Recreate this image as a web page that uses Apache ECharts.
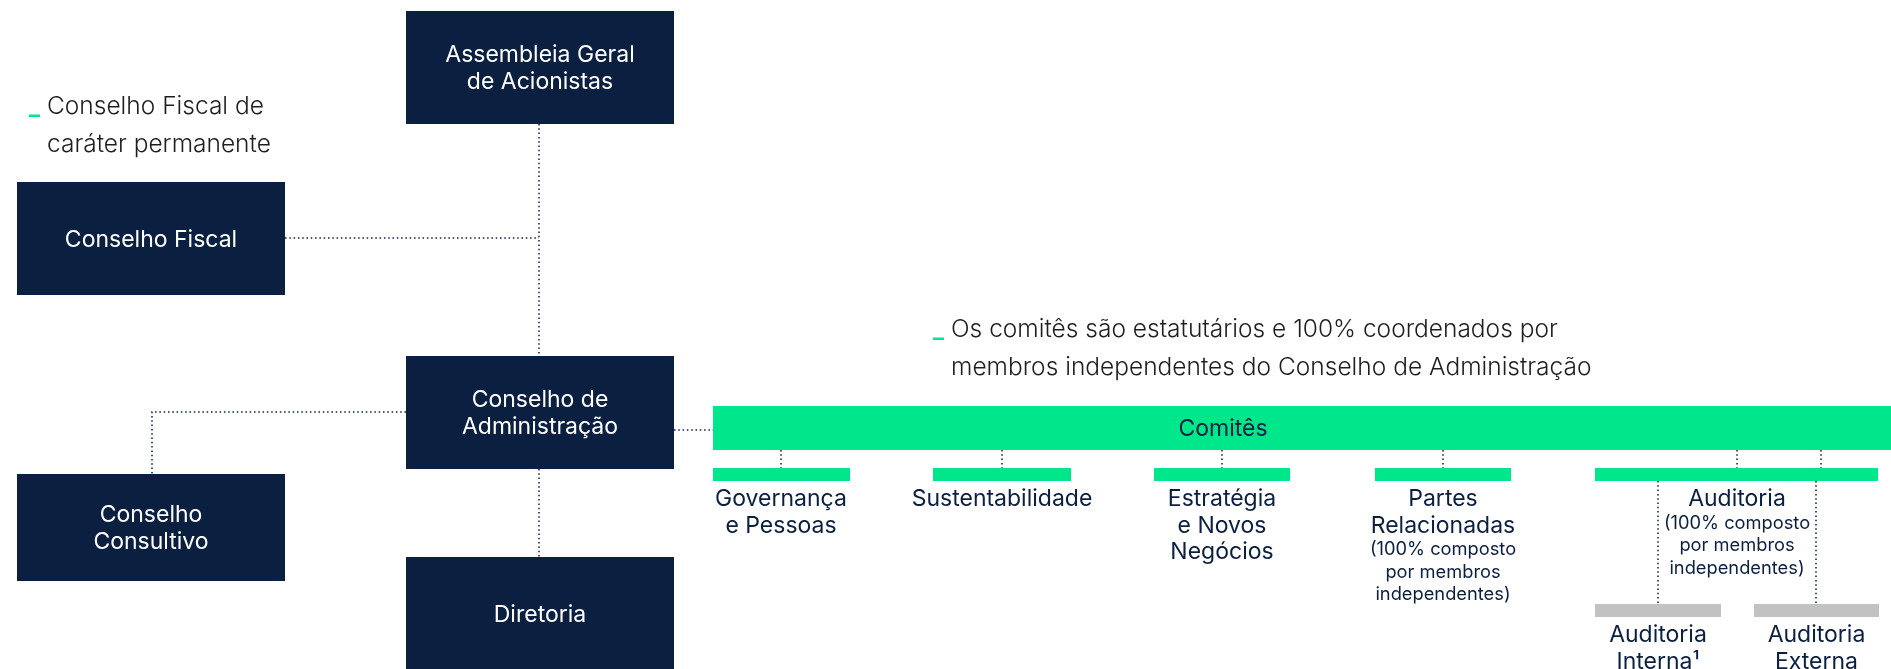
<!DOCTYPE html>
<html><head><meta charset="utf-8">
<script src="https://cdn.jsdelivr.net/npm/echarts@6/dist/echarts.min.js"></script>
<style>html,body{margin:0;padding:0;background:#fff}#c{width:1891px;height:669px}</style>
</head><body><div id="c"></div>
<script>
// ---------- content ----------
const boxLabels = ['Assembleia Geral\nde Acionistas', 'Conselho Fiscal', 'Conselho de\nAdministração', 'Conselho\nConsultivo', 'Diretoria'];
const committeeHeader = 'Comitês';
const committeeLabels = ['Governança\ne Pessoas', 'Sustentabilidade', 'Estratégia\ne Novos\nNegócios', 'Partes\nRelacionadas', 'Auditoria'];
const committeeNotes = ['', '', '', '(100% composto\npor membros\nindependentes)', '(100% composto\npor membros\nindependentes)'];
const auditLabels = ['Auditoria\nInterna¹', 'Auditoria\nExterna'];
const noteTexts = ['Conselho Fiscal de\ncaráter permanente', 'Os comitês são estatutários e 100% coordenados por\nmembros independentes do Conselho de Administração'];

// ---------- layout (units of the hidden axes) ----------
const boxRects = [[406, 11, 674, 124], [17, 182, 285, 295], [406, 356, 674, 469], [17, 474, 285, 581], [406, 557, 674, 670]];
const headerRect = [713, 406, 1891, 450];
const headerLabelPos = [1223, 429];
const committeeRects = [[713, 468, 850, 481], [933, 468, 1071, 481], [1154, 468, 1290, 481], [1375, 468, 1511, 481], [1595, 468, 1878, 481]];
const committeeLabelCx = [781, 1002, 1222, 1443, 1737];
const auditRects = [[1595, 604, 1721, 617], [1754, 604, 1879, 617]];
const noteAnchors = [[47, 107], [951, 330]];
const connectors = [
  [[539, 124], [539, 356]],
  [[285, 238], [539, 238]],
  [[406, 412], [152, 412], [152, 474]],
  [[539, 469], [539, 557]],
  [[674, 430], [713, 430]],
  [[781, 450], [781, 468]],
  [[1002, 450], [1002, 468]],
  [[1222, 450], [1222, 468]],
  [[1443, 450], [1443, 468]],
  [[1737, 450], [1737, 468]],
  [[1821, 450], [1821, 468]],
  [[1658, 481], [1658, 604]],
  [[1816, 481], [1816, 604]]
];

// ---------- styles ----------
const NAVY = '#0b1f41';
const GREEN = '#00e68a';
const GRAY = '#c2c2c2';
const FONT = 'Inter';
const LH = 26.5, NOTE_LH = 22.5;

const chart = echarts.init(document.getElementById('c'), null, {renderer: 'canvas'});

function rectShape(api) {
  const p0 = api.coord([api.value(0), api.value(1)]);
  const p1 = api.coord([api.value(2), api.value(3)]);
  return {x: p0[0], y: p0[1], width: p1[0] - p0[0], height: p1[1] - p0[1]};
}

const option = {
  animation: false,
  backgroundColor: '#fff',
  grid: {left: 0, right: 0, top: 0, bottom: 0},
  xAxis: {type: 'value', min: 0, max: 1891, show: false},
  yAxis: {type: 'value', min: 0, max: 669, inverse: true, show: false},
  series: [
    {
      type: 'lines', coordinateSystem: 'cartesian2d', polyline: true, silent: true, z: 1,
      lineStyle: {color: NAVY, width: 1.5, type: [1.5, 2.8], opacity: 1},
      data: connectors.map(c => ({coords: c}))
    },
    { // navy boxes
      type: 'custom', silent: true, z: 2,
      data: boxRects.map((r, i) => [r[0], r[1], r[2], r[3], i]),
      encode: {x: [0, 2], y: [1, 3]},
      renderItem: (params, api) => {
        const s = rectShape(api);
        const i = api.value(4);
        return {type: 'group', children: [
          {type: 'rect', shape: s, style: {fill: NAVY}},
          {type: 'text', style: {text: boxLabels[i], x: s.x + s.width / 2, y: s.y + s.height / 2 + 1.2,
            align: 'center', verticalAlign: 'middle', fill: '#ffffff', font: '400 23px ' + FONT, lineHeight: LH}}
        ]};
      }
    },
    { // committees header bar
      type: 'custom', silent: true, z: 2,
      data: [[headerRect[0], headerRect[1], headerRect[2], headerRect[3], headerLabelPos[0], headerLabelPos[1]]],
      encode: {x: [0, 2], y: [1, 3]},
      renderItem: (params, api) => {
        const s = rectShape(api);
        const t = api.coord([api.value(4), api.value(5)]);
        return {type: 'group', children: [
          {type: 'rect', shape: s, style: {fill: GREEN}},
          {type: 'text', style: {text: committeeHeader, x: t[0], y: t[1], align: 'center', verticalAlign: 'middle',
            fill: NAVY, font: '400 23px ' + FONT}}
        ]};
      }
    },
    { // committee bars + labels
      type: 'custom', silent: true, z: 2,
      data: committeeRects.map((r, i) => [r[0], r[1], r[2], r[3], committeeLabelCx[i], i]),
      encode: {x: [0, 2], y: [1, 3]},
      renderItem: (params, api) => {
        const s = rectShape(api);
        const cx = api.coord([api.value(4), 0])[0];
        const i = api.value(5);
        const label = committeeLabels[i];
        const n = label.split('\n').length;
        const firstC = s.y + s.height + 18.2;
        const kids = [
          {type: 'rect', shape: s, style: {fill: GREEN}},
          {type: 'text', style: {text: label, x: cx, y: firstC - LH / 2, align: 'center', verticalAlign: 'top',
            fill: NAVY, font: '400 23px ' + FONT, lineHeight: LH}}
        ];
        if (committeeNotes[i]) {
          const nc = firstC + n * LH - 2.5;
          kids.push({type: 'text', style: {text: committeeNotes[i], x: cx, y: nc - NOTE_LH / 2, align: 'center', verticalAlign: 'top',
            fill: NAVY, font: '400 18.3px ' + FONT, lineHeight: NOTE_LH}});
        }
        return {type: 'group', children: kids};
      }
    },
    { // audit sub-bars
      type: 'custom', silent: true, z: 2,
      data: auditRects.map((r, i) => [r[0], r[1], r[2], r[3], i]),
      encode: {x: [0, 2], y: [1, 3]},
      renderItem: (params, api) => {
        const s = rectShape(api);
        const i = api.value(4);
        const firstC = s.y + s.height + 18.2;
        return {type: 'group', children: [
          {type: 'rect', shape: s, style: {fill: GRAY}},
          {type: 'text', style: {text: auditLabels[i], x: s.x + s.width / 2, y: firstC - LH / 2, align: 'center', verticalAlign: 'top',
            fill: NAVY, font: '400 23px ' + FONT, lineHeight: LH}}
        ]};
      }
    },
    { // notes
      type: 'custom', silent: true, z: 3,
      data: noteAnchors.map((a, i) => [a[0], a[1], i]),
      encode: {x: 0, y: 1},
      renderItem: (params, api) => {
        const p = api.coord([api.value(0), api.value(1)]);
        const i = api.value(2);
        return {type: 'group', children: [
          {type: 'rect', shape: {x: p[0] - 18, y: p[1] + 7.5, width: 11, height: 2.5}, style: {fill: GREEN}},
          {type: 'text', style: {text: noteTexts[i], x: p[0], y: p[1] - 19, align: 'left', verticalAlign: 'top',
            fill: '#1e1e1e', font: '300 24.5px ' + FONT, lineHeight: 38}}
        ]};
      }
    }
  ]
};
chart.setOption(option);
</script>
</body></html>
